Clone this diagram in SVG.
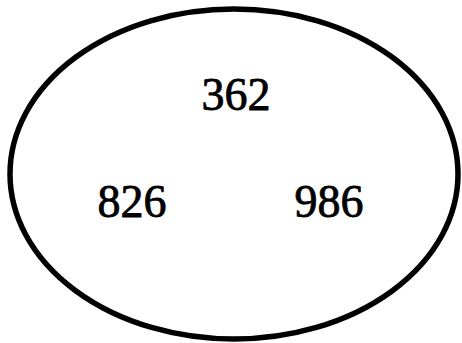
<svg xmlns="http://www.w3.org/2000/svg" width="462" height="343" viewBox="0 0 462 343">
<style>
.n{font-family:"Liberation Serif","Times New Roman",serif;font-size:46px;fill:#000;stroke:#000;stroke-width:0.8;text-anchor:middle}
</style>
<rect width="462" height="343" fill="#fff"/>
<g id="set">
<ellipse cx="234" cy="174" rx="224" ry="165" fill="none" stroke="#000" stroke-width="5.5"/>
</g>
<g id="n362"><text class="n" x="236" y="110">362</text></g>
<g id="n826"><text class="n" x="132" y="217">826</text></g>
<g id="n986"><text class="n" x="329" y="217">986</text></g>
<g id="connectors"></g>
</svg>
